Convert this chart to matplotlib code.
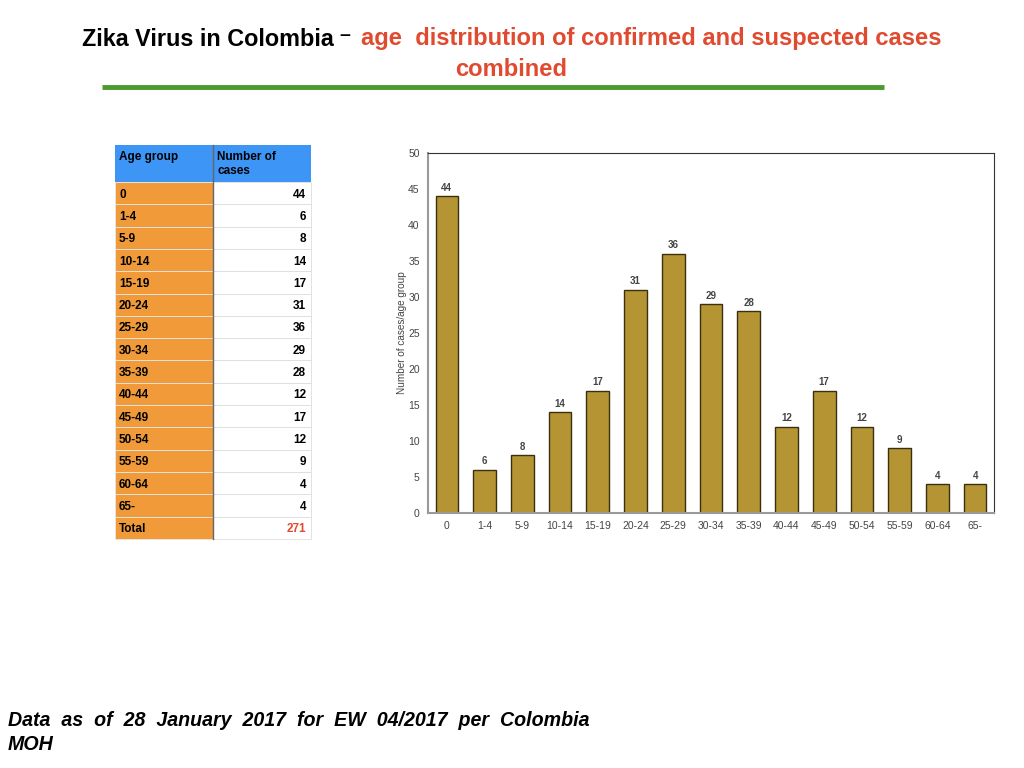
import matplotlib
matplotlib.use("Agg")
import matplotlib.pyplot as plt
from matplotlib.patches import Rectangle

plt.rcParams['font.family'] = ['Liberation Sans', 'DejaVu Sans']

# data
age_groups = ["0", "1-4", "5-9", "10-14", "15-19", "20-24", "25-29", "30-34",
              "35-39", "40-44", "45-49", "50-54", "55-59", "60-64", "65-"]
cases = [44, 6, 8, 14, 17, 31, 36, 29, 28, 12, 17, 12, 9, 4, 4]
total_cases = 271
table_header = ["Age group", "Number of", "cases"]

W, H = 1024, 768
fig = plt.figure(figsize=(W / 100, H / 100), dpi=100)

# overlay in pixel coordinates for title, table, footer
bg = fig.add_axes([0, 0, 1, 1])
bg.set_xlim(0, W)
bg.set_ylim(H, 0)
bg.axis("off")

red = "#E04A2F"
bg.text(82, 39, "Zika Virus in Colombia", fontsize=16.8, fontweight="bold",
        color="black", va="center", ha="left")
bg.text(339, 35, "\u2013", fontsize=14, fontweight="bold", color="black",
        va="center", ha="left")
bg.text(361, 39, "age  distribution of confirmed and suspected cases", fontsize=17.1,
        fontweight="bold", color=red, va="center", ha="left")
bg.text(511, 70, "combined", fontsize=17.1, fontweight="bold", color=red,
        va="center", ha="center")
bg.plot([102, 884], [87, 87], color="#4A9A2E", lw=3.5, solid_capstyle="butt")

# table
x0, xm, x1 = 115, 213, 311
y_head, row_h = 145, 22.3
y_body = 182
bg.add_patch(Rectangle((x0, y_head), x1 - x0, y_body - y_head, color="#3D96F5", lw=0))
bg.text(x0 + 4, 157, table_header[0], fontsize=8.5, fontweight="bold", va="center")
bg.text(xm + 4, 157, table_header[1], fontsize=8.5, fontweight="bold", va="center")
bg.text(xm + 4, 171, table_header[2], fontsize=8.5, fontweight="bold", va="center")
rows = list(zip(age_groups, cases)) + [("Total", total_cases)]
for i, (g, n) in enumerate(rows):
    top = y_body + i * row_h
    bg.add_patch(Rectangle((x0, top), xm - x0, row_h, facecolor="#F09A3A", edgecolor="#E8E8E8", lw=0.6))
    bg.add_patch(Rectangle((xm, top), x1 - xm, row_h, facecolor="white", edgecolor="#DDDDDD", lw=0.6))
    bg.text(x0 + 4, top + row_h / 2 + 1.5, g, fontsize=8.5, fontweight="bold", va="center")
    col = red if g == "Total" else "black"
    bg.text(x1 - 5, top + row_h / 2 + 1.5, str(n), fontsize=8.5, fontweight="bold", va="center",
            ha="right", color=col)
bg.plot([xm, xm], [y_head, y_body + len(rows) * row_h], color="#666666", lw=1)

# footer
bg.text(8, 721, "Data  as  of  28  January  2017  for  EW  04/2017  per  Colombia",
        fontsize=14.1, fontweight="bold", style="italic", va="center")
bg.text(8, 745, "MOH", fontsize=14.1, fontweight="bold", style="italic", va="center")

# bar chart
ax = fig.add_axes([428 / W, 1 - 513 / H, 566 / W, 360 / H])
xs = list(range(len(age_groups)))
ax.bar(xs, cases, width=0.6, color="#B59433", edgecolor="#3B2F10", linewidth=1)
for x, v in zip(xs, cases):
    ax.text(x, v + 0.5, str(v), ha="center", va="bottom", fontsize=7,
            fontweight="bold", color="#444444")
ax.set_xlim(-0.5, len(age_groups) - 0.5)
ax.set_ylim(0, 50)
ax.set_yticks(range(0, 51, 5))
ax.set_xticks(xs)
ax.set_xticklabels(age_groups)
ax.tick_params(axis="both", length=0, labelsize=7.5, labelcolor="#444444")
ax.tick_params(axis="x", pad=6)
ax.tick_params(axis="y", pad=6)
ax.set_ylabel("Number of cases/age group", fontsize=7.2, color="#444444")
ax.yaxis.set_label_coords(-0.037, 0.5)
for s in ["left", "bottom"]:
    ax.spines[s].set_color("#999999")
    ax.spines[s].set_linewidth(1.5)
for s in ["top", "right"]:
    ax.spines[s].set_color("#333333")
    ax.spines[s].set_linewidth(0.8)

fig.savefig("out.png", dpi=100)
